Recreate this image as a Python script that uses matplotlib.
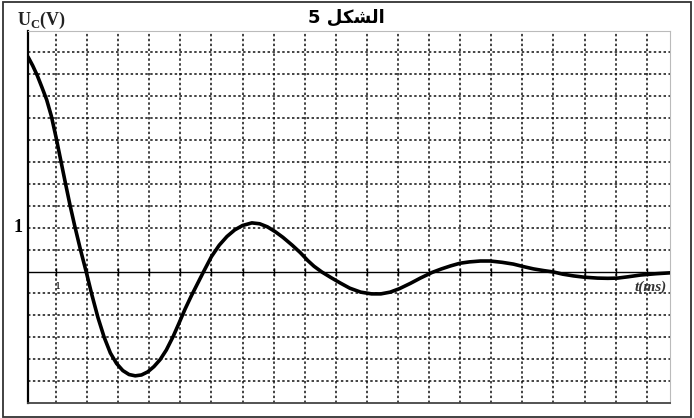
import matplotlib.pyplot as plt
from matplotlib.patches import Rectangle

# capacitor voltage: t in ms, Uc in V
T_MS = [0.1, 0.25, 0.4, 0.55, 0.7, 0.85, 1.0, 1.15, 1.3, 1.45, 1.6, 1.78, 1.97,
        2.15, 2.35, 2.55, 2.75, 2.95, 3.15, 3.35, 3.55, 3.75, 3.95, 4.15, 4.35,
        4.55, 4.77, 4.95, 5.15, 5.35, 5.55, 5.75, 6.0, 6.25, 6.5, 6.75, 7.0, 7.3,
        7.55, 7.8, 8.05, 8.3, 8.6, 8.86, 9.1, 9.3, 9.55, 9.85, 10.14, 10.45, 10.8,
        11.15, 11.45, 11.75, 12.05, 12.4, 12.72, 13.1, 13.4, 13.7, 14.0, 14.3,
        14.65, 14.97, 15.35, 15.71, 16.05, 16.36, 16.7, 17.0, 17.3, 17.65, 18.0,
        18.42, 18.75, 19.06, 19.4, 19.8, 20.3, 20.75]
UC_V = [4.90, 4.70, 4.47, 4.20, 3.92, 3.55, 3.07, 2.55, 2.03, 1.52, 1.05, 0.52, 0.0,
        -0.52, -1.05, -1.50, -1.86, -2.10, -2.26, -2.35, -2.38, -2.36, -2.29, -2.17, -2.01,
        -1.79, -1.48, -1.19, -0.86, -0.56, -0.28, 0.0, 0.34, 0.60, 0.80, 0.95, 1.05, 1.11,
        1.09, 1.02, 0.91, 0.78, 0.60, 0.43, 0.25, 0.12, -0.01, -0.14, -0.26, -0.38, -0.47,
        -0.51, -0.51, -0.47, -0.39, -0.27, -0.15, -0.02, 0.06, 0.13, 0.19, 0.22,
        0.24, 0.24, 0.21, 0.17, 0.11, 0.06, 0.02, -0.01, -0.06, -0.10, -0.13,
        -0.15, -0.155, -0.15, -0.12, -0.08, -0.05, -0.03]

X_GRID = list(range(1, 21))
Y_GRID = [-2.5, -2.0, -1.5, -1.0, -0.5, 0.5, 1.0, 1.5, 2.0, 2.5, 3.0, 3.5, 4.0, 4.5, 5.0]

TITLE = "5 " + "\uFEDE\uFEDC\uFEB8\uFEDF\uFE8D"   # "الشكل 5" in display order
Y_LABEL = r"U$_\mathregular{C}$(V)"
X_LABEL = "t(ms)"


def main():
    fig = plt.figure(figsize=(6.94, 4.18), dpi=100)
    ax = fig.add_axes([28 / 694, 1 - 403 / 418, 642 / 694, 372.5 / 418])

    # dotted grid
    for x in X_GRID:
        ax.axvline(x, color='#111111', lw=1.1, linestyle=(0, (1.6, 1.6)), zorder=1)
    for y in Y_GRID:
        ax.axhline(y, color='#111111', lw=1.1, linestyle=(0, (1.6, 1.6)), zorder=1)

    # time axis with small ticks
    ax.axhline(0, color='black', lw=1.0, zorder=2)
    ax.plot(X_GRID, [0] * len(X_GRID), linestyle='none', marker='|',
            markersize=6, color='black', mew=1.0, zorder=2)

    ax.plot(T_MS, UC_V, color='black', lw=2.6, solid_capstyle='round',
            solid_joinstyle='round', zorder=3)

    ax.set_xlim(0.1, 20.75)
    ax.set_ylim(-3.0, 5.5)
    ax.set_xticks([])
    ax.set_yticks([])
    ax.spines['left'].set_color('black')
    ax.spines['left'].set_linewidth(1.6)
    ax.spines['bottom'].set_color('#444444')
    ax.spines['bottom'].set_linewidth(1.3)
    ax.spines['top'].set_color('#bbbbbb')
    ax.spines['right'].set_color('#bbbbbb')

    ax.text(1.05, -0.35, "1", fontsize=7, family='DejaVu Serif',
            ha='center', va='center')
    ax.text(20.65, -0.36, X_LABEL, fontsize=11, family='Liberation Serif',
            style='italic', weight='bold', color='#333333', ha='right', va='center')

    fig.text(18 / 694, 1 - 227.5 / 418, "1", fontsize=13, family='Liberation Serif',
             weight='bold', ha='center', va='center')
    fig.text(17 / 694, 1 - 20 / 418, Y_LABEL, fontsize=13, family='Liberation Serif',
             weight='bold', ha='left', va='center', color='#222222')
    fig.text(346 / 694, 1 - 18 / 418, TITLE, fontsize=13, family='DejaVu Sans',
             weight='bold', ha='center', va='center')

    # outer frame
    fig.patches.append(Rectangle((3 / 694, 1 / 418), 688 / 694, 415 / 418,
                                 transform=fig.transFigure, fill=False,
                                 edgecolor='#333333', lw=1.3))

    fig.savefig("out.png", dpi=100)
    plt.close(fig)


main()
